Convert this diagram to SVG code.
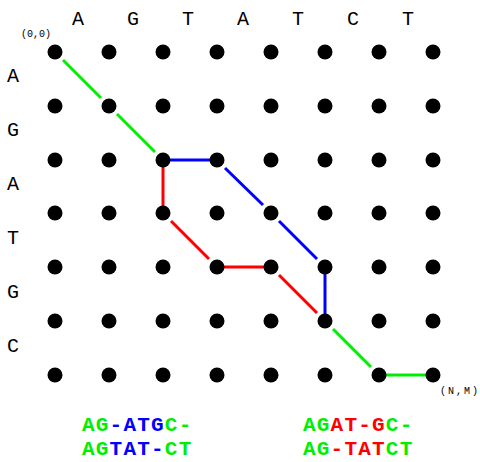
<svg xmlns="http://www.w3.org/2000/svg" width="480" height="462" viewBox="0 0 480 462">
<style>
.dot{fill:#000}
.seg{stroke-width:3;fill:none;stroke-linecap:butt}
.g{stroke:#00ee00}
.b{stroke:#0000ff}
.r{stroke:#ff0000}
.lbl{font-family:"Liberation Mono",monospace;font-size:20px;fill:#000;text-anchor:middle}
.sm{font-family:"Liberation Mono",monospace;font-size:10px;fill:#000}
.aln{font-family:"Liberation Mono",monospace;font-size:21px;font-weight:bold;letter-spacing:1.2px}
.tg{fill:#00ee00}
.tb{fill:#0000ff}
.tr{fill:#ff0000}
</style>
<rect width="480" height="462" fill="#fff"/>
<g id="labels">
<text class="lbl" x="78" y="25">A</text>
<text class="lbl" x="133" y="25">G</text>
<text class="lbl" x="188" y="25">T</text>
<text class="lbl" x="243" y="25">A</text>
<text class="lbl" x="298" y="25">T</text>
<text class="lbl" x="353" y="25">C</text>
<text class="lbl" x="408" y="25">T</text>
<text class="lbl" x="13" y="82">A</text>
<text class="lbl" x="13" y="136">G</text>
<text class="lbl" x="13" y="190">A</text>
<text class="lbl" x="13" y="244">T</text>
<text class="lbl" x="13" y="298">G</text>
<text class="lbl" x="13" y="352">C</text>
<text class="sm" x="21" y="37">(0,0)</text>
<text class="sm" x="440" y="394" font-size="12" textLength="38">(N,M)</text>
</g>
<g id="connectors">
<line class="seg g" x1="63" y1="60" x2="101" y2="98"/>
<line class="seg g" x1="117" y1="114" x2="155" y2="152"/>
<line class="seg g" x1="333" y1="329" x2="371" y2="367"/>
<line class="seg g" x1="386" y1="375" x2="426" y2="375"/>
<line class="seg b" x1="170" y1="160" x2="210" y2="160"/>
<line class="seg b" x1="225" y1="168" x2="263" y2="205"/>
<line class="seg b" x1="279" y1="221" x2="317" y2="259"/>
<line class="seg b" x1="325" y1="274" x2="325" y2="314"/>
<line class="seg r" x1="163" y1="167" x2="163" y2="206"/>
<line class="seg r" x1="171" y1="221" x2="209" y2="259"/>
<line class="seg r" x1="224" y1="267" x2="264" y2="267"/>
<line class="seg r" x1="279" y1="275" x2="317" y2="313"/>
</g>
<g id="grid">
<g id="row0"><circle class="dot" cx="55" cy="52" r="7.5"/><circle class="dot" cx="109" cy="52" r="7.5"/><circle class="dot" cx="163" cy="52" r="7.5"/><circle class="dot" cx="217" cy="52" r="7.5"/><circle class="dot" cx="271" cy="52" r="7.5"/><circle class="dot" cx="325" cy="52" r="7.5"/><circle class="dot" cx="379" cy="52" r="7.5"/><circle class="dot" cx="433" cy="52" r="7.5"/></g>
<g id="row1"><circle class="dot" cx="55" cy="106" r="7.5"/><circle class="dot" cx="109" cy="106" r="7.5"/><circle class="dot" cx="163" cy="106" r="7.5"/><circle class="dot" cx="217" cy="106" r="7.5"/><circle class="dot" cx="271" cy="106" r="7.5"/><circle class="dot" cx="325" cy="106" r="7.5"/><circle class="dot" cx="379" cy="106" r="7.5"/><circle class="dot" cx="433" cy="106" r="7.5"/></g>
<g id="row2"><circle class="dot" cx="55" cy="160" r="7.5"/><circle class="dot" cx="109" cy="160" r="7.5"/><circle class="dot" cx="163" cy="160" r="7.5"/><circle class="dot" cx="217" cy="160" r="7.5"/><circle class="dot" cx="271" cy="160" r="7.5"/><circle class="dot" cx="325" cy="160" r="7.5"/><circle class="dot" cx="379" cy="160" r="7.5"/><circle class="dot" cx="433" cy="160" r="7.5"/></g>
<g id="row3"><circle class="dot" cx="55" cy="213" r="7.5"/><circle class="dot" cx="109" cy="213" r="7.5"/><circle class="dot" cx="163" cy="213" r="7.5"/><circle class="dot" cx="217" cy="213" r="7.5"/><circle class="dot" cx="271" cy="213" r="7.5"/><circle class="dot" cx="325" cy="213" r="7.5"/><circle class="dot" cx="379" cy="213" r="7.5"/><circle class="dot" cx="433" cy="213" r="7.5"/></g>
<g id="row4"><circle class="dot" cx="55" cy="267" r="7.5"/><circle class="dot" cx="109" cy="267" r="7.5"/><circle class="dot" cx="163" cy="267" r="7.5"/><circle class="dot" cx="217" cy="267" r="7.5"/><circle class="dot" cx="271" cy="267" r="7.5"/><circle class="dot" cx="325" cy="267" r="7.5"/><circle class="dot" cx="379" cy="267" r="7.5"/><circle class="dot" cx="433" cy="267" r="7.5"/></g>
<g id="row5"><circle class="dot" cx="55" cy="321" r="7.5"/><circle class="dot" cx="109" cy="321" r="7.5"/><circle class="dot" cx="163" cy="321" r="7.5"/><circle class="dot" cx="217" cy="321" r="7.5"/><circle class="dot" cx="271" cy="321" r="7.5"/><circle class="dot" cx="325" cy="321" r="7.5"/><circle class="dot" cx="379" cy="321" r="7.5"/><circle class="dot" cx="433" cy="321" r="7.5"/></g>
<g id="row6"><circle class="dot" cx="55" cy="375" r="7.5"/><circle class="dot" cx="109" cy="375" r="7.5"/><circle class="dot" cx="163" cy="375" r="7.5"/><circle class="dot" cx="217" cy="375" r="7.5"/><circle class="dot" cx="271" cy="375" r="7.5"/><circle class="dot" cx="325" cy="375" r="7.5"/><circle class="dot" cx="379" cy="375" r="7.5"/><circle class="dot" cx="433" cy="375" r="7.5"/></g>
</g>
<g id="alignment-blue">
<text class="aln" x="82" y="431"><tspan class="tg">AG</tspan><tspan class="tb">-ATG</tspan><tspan class="tg">C-</tspan></text>
<text class="aln" x="82" y="455"><tspan class="tg">AG</tspan><tspan class="tb">TAT-</tspan><tspan class="tg">CT</tspan></text>
</g>
<g id="alignment-red">
<text class="aln" x="303" y="431"><tspan class="tg">AG</tspan><tspan class="tr">AT-G</tspan><tspan class="tg">C-</tspan></text>
<text class="aln" x="303" y="455"><tspan class="tg">AG</tspan><tspan class="tr">-TAT</tspan><tspan class="tg">CT</tspan></text>
</g>
</svg>
